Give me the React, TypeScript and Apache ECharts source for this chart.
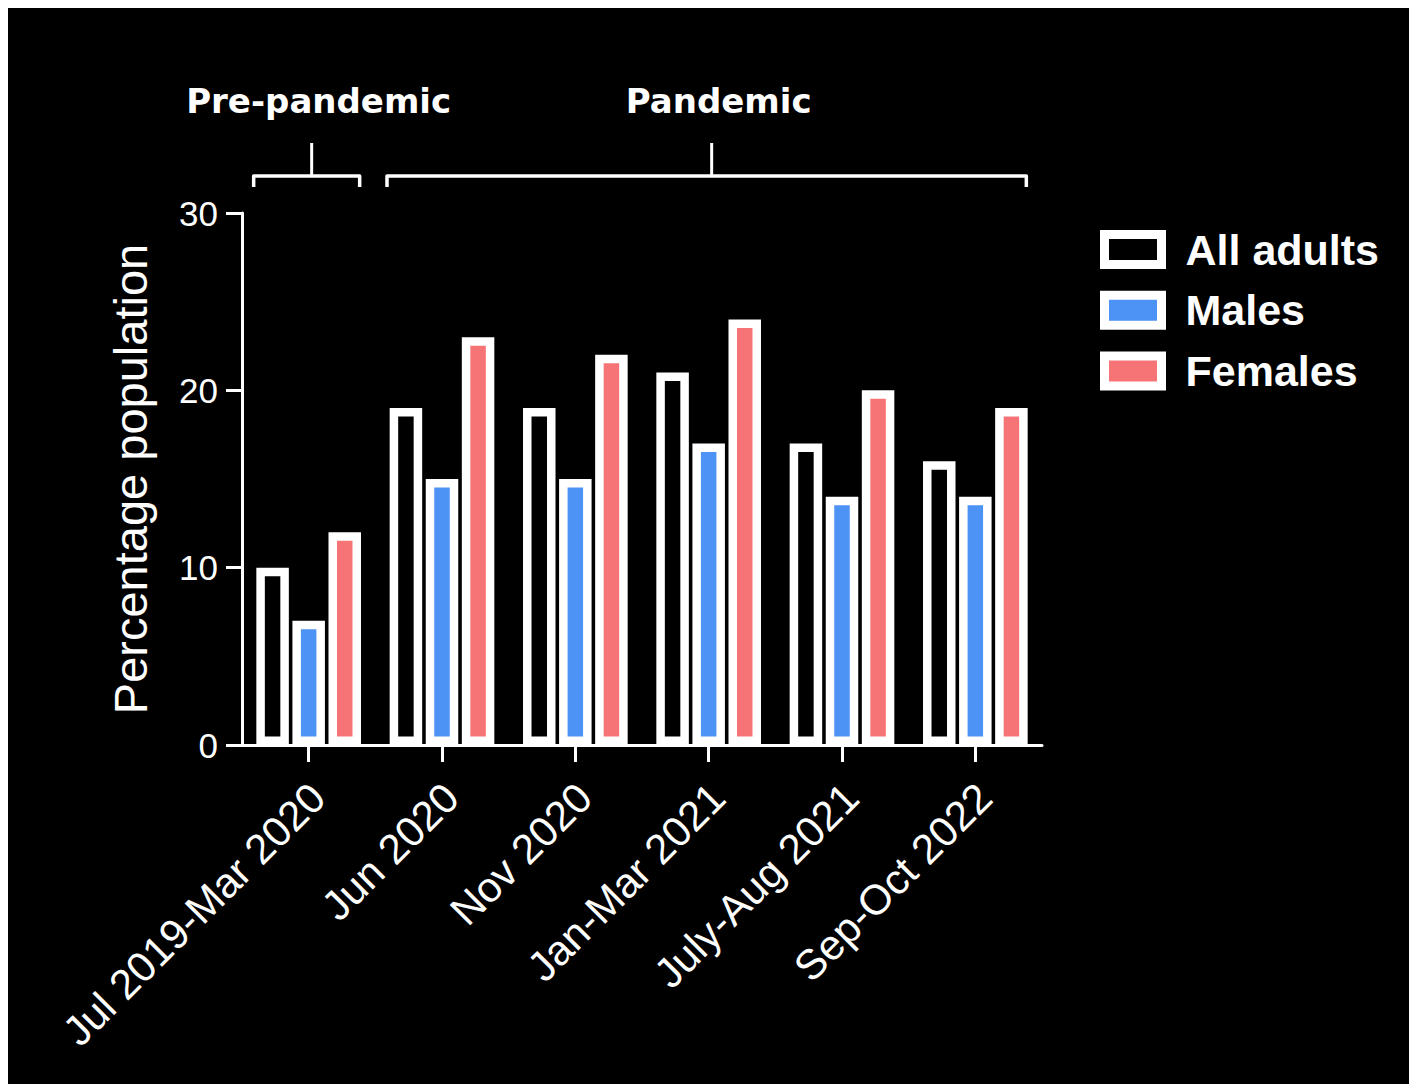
import React, { useEffect, useRef } from "react";
import * as echarts from "echarts";

const categories = [
  "Jul 2019-Mar 2020",
  "Jun 2020",
  "Nov 2020",
  "Jan-Mar 2021",
  "July-Aug 2021",
  "Sep-Oct 2022",
];
const seriesNames = ["All adults", "Males", "Females"];
const allAdults = [10, 19, 19, 21, 17, 16];
const males = [7, 15, 15, 17, 14, 14];
const females = [12, 23, 22, 24, 20, 19];
const yMin = 0;
const yMax = 30;
const yInterval = 10;
const periods = [
  { label: "Pre-pandemic", from: 0, to: 0 },
  { label: "Pandemic", from: 1, to: 5 },
];

const WHITE = "#ffffff";
const BLUE = "#4C93F5";
const PINK = "#F77476";
const FONT = '"Liberation Sans", Arial, sans-serif';

export default function App() {
  const ref = useRef<HTMLDivElement>(null);

  useEffect(() => {
    if (!ref.current) return;
    const chart = echarts.init(ref.current, null, { renderer: "svg" });
    const fills = ["#000000", BLUE, PINK];
    const values = [allAdults, males, females];
    const option: any = {
      animation: false,
      backgroundColor: "#000000",
      grid: { left: 234, right: 367, top: 205, bottom: 339, containLabel: false },
      legend: {
        orient: "vertical",
        left: 1092,
        top: 220,
        padding: 0,
        itemWidth: 57,
        itemHeight: 30,
        itemGap: 17.7,
        icon: "rect",
        selectedMode: false,
        itemStyle: { borderWidth: 9 },
        textStyle: {
          color: WHITE,
          fontSize: 43,
          fontWeight: "bold",
          fontFamily: FONT,
          padding: [0, 0, 0, 19],
        },
        data: seriesNames,
      },
      xAxis: {
        type: "category",
        data: categories,
        axisLine: { show: true, lineStyle: { color: WHITE, width: 3 } },
        axisTick: { show: true, alignWithLabel: true, length: 17, lineStyle: { color: WHITE, width: 3 } },
        axisLabel: {
          interval: 0,
          rotate: 45,
          color: WHITE,
          fontSize: 42,
          fontFamily: FONT,
          align: "right",
          verticalAlign: "top",
          margin: 25,
          padding: [0, 8, 0, 0],
        },
        splitLine: { show: false },
      },
      yAxis: {
        type: "value",
        min: yMin,
        max: yMax,
        interval: yInterval,
        name: "Percentage population",
        nameLocation: "middle",
        nameRotate: 90,
        nameGap: 88,
        nameTextStyle: { color: WHITE, fontSize: 47, fontFamily: FONT },
        axisLine: { show: true, lineStyle: { color: WHITE, width: 3 } },
        axisTick: { show: true, length: 16, lineStyle: { color: WHITE, width: 3 } },
        axisLabel: { color: WHITE, fontSize: 35, fontFamily: FONT, margin: 24 },
        splitLine: { show: false },
      },
      series: seriesNames.map((name, i) => ({
        name,
        type: "bar",
        data: values[i],
        barWidth: 32.5,
        barGap: "11%",
        itemStyle: { color: fills[i], borderColor: WHITE, borderWidth: 8.5 },
      })),
    };
    chart.setOption(option);

    const px = (i: number) => chart.convertToPixel({ xAxisIndex: 0 }, i) as number;
    const graphics: any[] = [];
    periods.forEach((p) => {
      const x1 = px(p.from) - 55;
      const x2 = px(p.to) + 51;
      const mid = (px(p.from) + px(p.to)) / 2;
      graphics.push({
        type: "polyline",
        shape: { points: [[x1, 179], [x1, 168], [x2, 168], [x2, 179]] },
        style: { stroke: WHITE, lineWidth: 3.5, fill: null, lineJoin: "round" },
      });
      graphics.push({
        type: "line",
        shape: { x1: mid + 3, y1: 135, x2: mid + 3, y2: 168 },
        style: { stroke: WHITE, lineWidth: 3 },
      });
      graphics.push({
        type: "text",
        x: mid + 10,
        y: 93,
        style: {
          text: p.label,
          fill: WHITE,
          font: 'bold 34px "DejaVu Sans", sans-serif',
          textAlign: "center",
          textVerticalAlign: "middle",
        },
      });
    });
    chart.setOption({ graphic: graphics });

    return () => chart.dispose();
  }, []);

  return (
    <div
      ref={ref}
      style={{ width: 1401, height: 1076, background: "#000000" }}
    />
  );
}
